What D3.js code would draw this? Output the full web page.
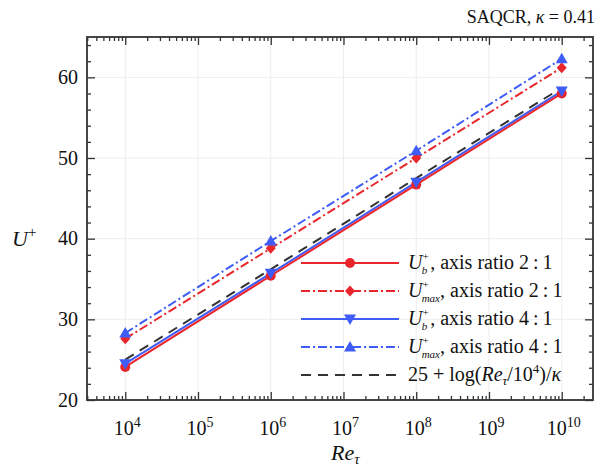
<!DOCTYPE html>
<html><head><meta charset="utf-8">
<script src="https://cdn.jsdelivr.net/npm/d3@7"></script>
<style>body{margin:0;background:#fff}svg{display:block}svg text{font-family:"Liberation Serif","Times New Roman",Times,"Noto Serif","DejaVu Serif",serif}</style>
</head><body><svg id="c" width="597" height="468"></svg>
<script>
const reTau = [1e4, 1e6, 1e8, 1e10];
const ubRatio2 = [24.1, 35.4, 46.7, 58.0];
const umaxRatio2 = [27.6, 38.8, 50.0, 61.2];
const ubRatio4 = [24.5, 35.7, 47.0, 58.3];
const umaxRatio4 = [28.3, 39.7, 50.9, 62.3];
const logLaw = [25.0, 36.2, 47.5, 58.7];
const xTickExps = [4, 5, 6, 7, 8, 9, 10];
const yTicks = [20, 30, 40, 50, 60];

const red = "#e8262b", blue = "#3f5cf6";
const series = [
  {vals: ubRatio2, color: red, dash: null, marker: "circle", label: ["U", "b", ", axis ratio 2\u2009:\u20091"]},
  {vals: umaxRatio2, color: red, dash: "9,3,2,3", marker: "diamond", label: ["U", "max", ", axis ratio 2\u2009:\u20091"]},
  {vals: ubRatio4, color: blue, dash: null, marker: "down", label: ["U", "b", ", axis ratio 4\u2009:\u20091"]},
  {vals: umaxRatio4, color: blue, dash: "9,3,2,3", marker: "up", label: ["U", "max", ", axis ratio 4\u2009:\u20091"]},
  {vals: logLaw, color: "#333", dash: "10,7", marker: null, label: null}
];

const svg = d3.select("#c");
const L = 87, R = 593, T = 37, B = 400;
const x = d3.scaleLog().domain([Math.pow(10, 3.474), Math.pow(10, 10.43)]).range([L, R]);
const y = d3.scaleLinear().domain([20, 65]).range([B, T]);

const g = svg.append("g");
xTickExps.forEach(e => g.append("line").attr("x1", x(Math.pow(10, e))).attr("x2", x(Math.pow(10, e))).attr("y1", T).attr("y2", B).attr("stroke", "#ededed").attr("stroke-width", 1));
yTicks.forEach(v => g.append("line").attr("x1", L).attr("x2", R).attr("y1", y(v)).attr("y2", y(v)).attr("stroke", "#ededed").attr("stroke-width", 1));

const minorX = [];
for (let e = 3; e <= 10; e++) for (let m = 2; m <= 9; m++) { const v = m * Math.pow(10, e); if (v > x.domain()[0] && v < x.domain()[1]) minorX.push(v); }
const majorX = xTickExps.map(e => Math.pow(10, e));
const minorY = d3.range(20, 66, 2).filter(v => v % 10 !== 0);

function axisLine(ax, tr) { const a = svg.append("g").attr("transform", tr).call(ax); a.select(".domain").remove(); a.selectAll("text").remove(); a.selectAll("line").attr("stroke", "#333").attr("stroke-width", 1.3); }
axisLine(d3.axisBottom(x).tickValues(minorX).tickSize(-4), `translate(0,${B})`);
axisLine(d3.axisBottom(x).tickValues(majorX).tickSize(-8), `translate(0,${B})`);
axisLine(d3.axisTop(x).tickValues(minorX).tickSize(-4), `translate(0,${T})`);
axisLine(d3.axisTop(x).tickValues(majorX).tickSize(-8), `translate(0,${T})`);
axisLine(d3.axisLeft(y).tickValues(minorY).tickSize(-4), `translate(${L},0)`);
axisLine(d3.axisLeft(y).tickValues(yTicks).tickSize(-8), `translate(${L},0)`);
axisLine(d3.axisRight(y).tickValues(minorY).tickSize(-4), `translate(${R},0)`);
axisLine(d3.axisRight(y).tickValues(yTicks).tickSize(-8), `translate(${R},0)`);

svg.append("rect").attr("x", L).attr("y", T).attr("width", R - L).attr("height", B - T).attr("fill", "none").attr("stroke", "#333").attr("stroke-width", 1.8);

yTicks.forEach(v => svg.append("text").attr("x", 78).attr("y", y(v) + 6.5).attr("text-anchor", "end").attr("font-size", 20).attr("fill", "#111").text(v));
xTickExps.forEach(e => {
  const t = svg.append("text").attr("x", x(Math.pow(10, e)) + 2).attr("y", 435).attr("text-anchor", "middle").attr("font-size", 20).attr("fill", "#111");
  t.append("tspan").text("10");
  t.append("tspan").attr("dy", -8).attr("font-size", 14).text(e);
});

const xl = svg.append("text").attr("x", 331).attr("y", 460).attr("font-size", 22).attr("font-style", "italic").attr("fill", "#111");
xl.append("tspan").text("Re");
xl.append("tspan").attr("dy", 4).attr("font-size", 15).text("\u03c4");
const yl = svg.append("text").attr("x", 12).attr("y", 246).attr("font-size", 22).attr("fill", "#111");
yl.append("tspan").attr("font-style", "italic").text("U");
yl.append("tspan").attr("dy", -9).attr("font-size", 15).text("+");

const tt = svg.append("text").attr("x", 595).attr("y", 23).attr("text-anchor", "end").attr("font-size", 18).attr("fill", "#111");
tt.append("tspan").text("SAQCR, ");
tt.append("tspan").attr("font-style", "italic").text("\u03ba");
tt.append("tspan").text(" = 0.41");

function drawMarker(sel, type, cx, cy, color) {
  if (type === "circle") sel.append("circle").attr("cx", cx).attr("cy", cy).attr("r", 5).attr("fill", color);
  else if (type === "diamond") sel.append("path").attr("d", `M${cx},${cy-5.5}L${cx+5},${cy}L${cx},${cy+5.5}L${cx-5},${cy}Z`).attr("fill", color);
  else if (type === "down") sel.append("path").attr("d", `M${cx-6},${cy-4.5}L${cx+6},${cy-4.5}L${cx},${cy+6}Z`).attr("fill", color);
  else if (type === "up") sel.append("path").attr("d", `M${cx-6},${cy+4.5}L${cx+6},${cy+4.5}L${cx},${cy-6}Z`).attr("fill", color);
}

const line = d3.line().x((d, i) => x(reTau[i])).y(d => y(d));
const plot = svg.append("g");
series.slice().reverse().forEach(s => {
  plot.append("path").attr("d", line(s.vals)).attr("fill", "none").attr("stroke", s.color).attr("stroke-width", 2).attr("stroke-dasharray", s.dash);
});
series.forEach(s => { if (s.marker) s.vals.forEach((v, i) => drawMarker(plot, s.marker, x(reTau[i]), y(v), s.color)); });

const legY = [263, 291, 319, 347, 375];
series.forEach((s, i) => {
  const ly = legY[i];
  svg.append("line").attr("x1", 301).attr("x2", 399).attr("y1", ly).attr("y2", ly).attr("stroke", s.color).attr("stroke-width", 2).attr("stroke-dasharray", s.dash);
  if (s.marker) drawMarker(svg, s.marker, 350, ly, s.color);
  const t = svg.append("text").attr("x", 408).attr("y", ly + 6).attr("font-size", 20).attr("fill", "#111");
  if (s.label) {
    t.append("tspan").attr("font-style", "italic").text(s.label[0]);
    t.append("tspan").attr("dy", -9).attr("font-size", 11).text("+");
    t.append("tspan").attr("dx", -7).attr("dy", 14).attr("font-size", 11).attr("font-style", "italic").text(s.label[1]);
    t.append("tspan").attr("dy", -5).attr("dx", s.label[1] === "b" ? 3 : 0).text(s.label[2]);
  } else {
    t.append("tspan").text("25 + log(");
    t.append("tspan").attr("font-style", "italic").text("Re");
    t.append("tspan").attr("dy", 4).attr("font-size", 13).attr("font-style", "italic").text("\u03c4");
    t.append("tspan").attr("dy", -4).text("/10");
    t.append("tspan").attr("dy", -8).attr("font-size", 13).text("4");
    t.append("tspan").attr("dy", 8).text(")/");
    t.append("tspan").attr("font-style", "italic").text("\u03ba");
  }
});
</script></body></html>
